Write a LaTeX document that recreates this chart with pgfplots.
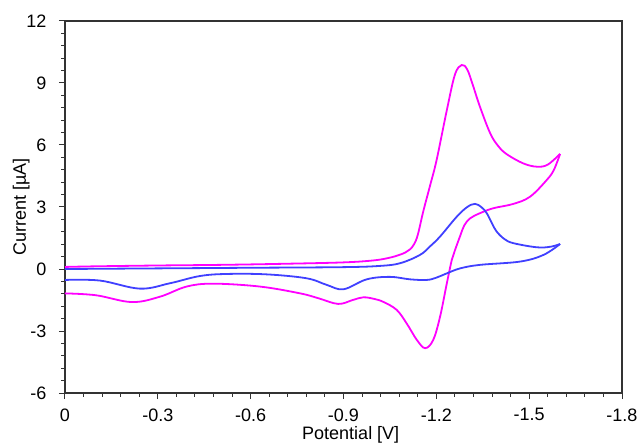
\documentclass[border=0pt]{standalone}
\usepackage{pgfplots}
\pgfplotsset{compat=1.18}
\usepackage{fontspec}
\setmainfont{Liberation Sans}

\definecolor{cvmag}{RGB}{255,0,255}
\definecolor{cvblue}{RGB}{64,64,255}

\begin{document}
\begin{tikzpicture}
\useasboundingbox (-65bp,-50bp) rectangle (574bp,393bp);
\begin{axis}[
  at={(0,0)}, anchor=south west,
  scale only axis,
  width=557bp, height=372bp,
  x dir=reverse,
  xmin=-1.8, xmax=0,
  ymin=-6, ymax=12,
  xtick={0,-0.3,-0.6,-0.9,-1.2,-1.5,-1.8},
  xticklabels={0,-0.3,-0.6,-0.9,-1.2,-1.5,-1.8},
  ytick={-6,-3,0,3,6,9,12},
  yticklabels={-6,-3,0,3,6,9,12},
  minor x tick num=4,
  minor y tick num=4,
  tick pos=left,
  tick align=outside,
  major tick length=6bp,
  minor tick length=3.5bp,
  axis line style={line width=1.2bp, black!80},
  every tick/.style={line width=1bp, black!80},
  tick label style={font=\fontsize{18bp}{21bp}\selectfont},
  xticklabel style={yshift=-6bp},
  yticklabel style={xshift=-9bp},
  label style={font=\fontsize{18bp}{21bp}\selectfont},
  xlabel={Potential [V]},
  ylabel={Current [µA]},
  xlabel style={at={(axis description cs:0.513,-0.124)}, anchor=base, inner sep=1bp},
  ylabel style={at={(axis description cs:-0.070,0.5)}, anchor=base},
  every axis plot/.append style={line width=1.8bp},
]
% magenta, forward scan
\addplot[cvmag, smooth, tension=0.6] coordinates {
  (0,0.10) (-0.1,0.13) (-0.3,0.17) (-0.5,0.20) (-0.7,0.25) (-0.9,0.32)
  (-1.0,0.42) (-1.05,0.55) (-1.08,0.68) (-1.10,0.80) (-1.115,0.95)
  (-1.128,1.20) (-1.14,1.65) (-1.158,2.80) (-1.18,4.05) (-1.201,5.28)
  (-1.234,7.69) (-1.26,9.40) (-1.282,9.87) (-1.30,9.65) (-1.318,8.90)
  (-1.341,7.85) (-1.374,6.57) (-1.40,5.95) (-1.428,5.55) (-1.481,5.11)
  (-1.525,4.95) (-1.56,5.05) (-1.60,5.57)
};
% magenta, reverse scan
\addplot[cvmag, smooth, tension=0.6] coordinates {
  (-1.60,5.57) (-1.58,4.80) (-1.557,4.31) (-1.503,3.50) (-1.449,3.15)
  (-1.384,2.94) (-1.341,2.70) (-1.309,2.45) (-1.29,2.10) (-1.277,1.60)
  (-1.26,0.90) (-1.25,0.44) (-1.234,-0.69) (-1.212,-2.31) (-1.19,-3.43)
  (-1.164,-3.83) (-1.137,-3.43) (-1.104,-2.63) (-1.072,-1.98) (-1.03,-1.60)
  (-1.0,-1.45) (-0.964,-1.37) (-0.93,-1.50) (-0.883,-1.69) (-0.82,-1.42)
  (-0.76,-1.18) (-0.63,-0.85) (-0.479,-0.71) (-0.393,-0.85) (-0.307,-1.34)
  (-0.216,-1.60) (-0.1,-1.27) (0,-1.18)
};
% blue, forward scan
\addplot[cvblue, smooth, tension=0.6] coordinates {
  (0,0.0) (-0.3,0.03) (-0.6,0.06) (-0.9,0.09) (-1.018,0.15) (-1.083,0.28)
  (-1.147,0.68) (-1.18,1.10) (-1.212,1.57) (-1.266,2.53) (-1.30,3.00)
  (-1.325,3.15) (-1.345,3.00) (-1.363,2.70) (-1.38,2.20) (-1.395,1.81)
  (-1.42,1.45) (-1.449,1.25) (-1.525,1.05) (-1.57,1.08) (-1.60,1.21)
};
% blue, reverse scan
\addplot[cvblue, smooth, tension=0.6] coordinates {
  (-1.60,1.21) (-1.546,0.68) (-1.471,0.36) (-1.341,0.20) (-1.277,0.03)
  (-1.234,-0.21) (-1.20,-0.42) (-1.169,-0.53) (-1.115,-0.50) (-1.05,-0.38)
  (-0.975,-0.50) (-0.9,-0.98) (-0.846,-0.77) (-0.781,-0.45) (-0.652,-0.26)
  (-0.523,-0.24) (-0.436,-0.34) (-0.339,-0.69) (-0.242,-0.95) (-0.113,-0.56)
  (0,-0.53)
};
\end{axis}
\end{tikzpicture}
\end{document}
